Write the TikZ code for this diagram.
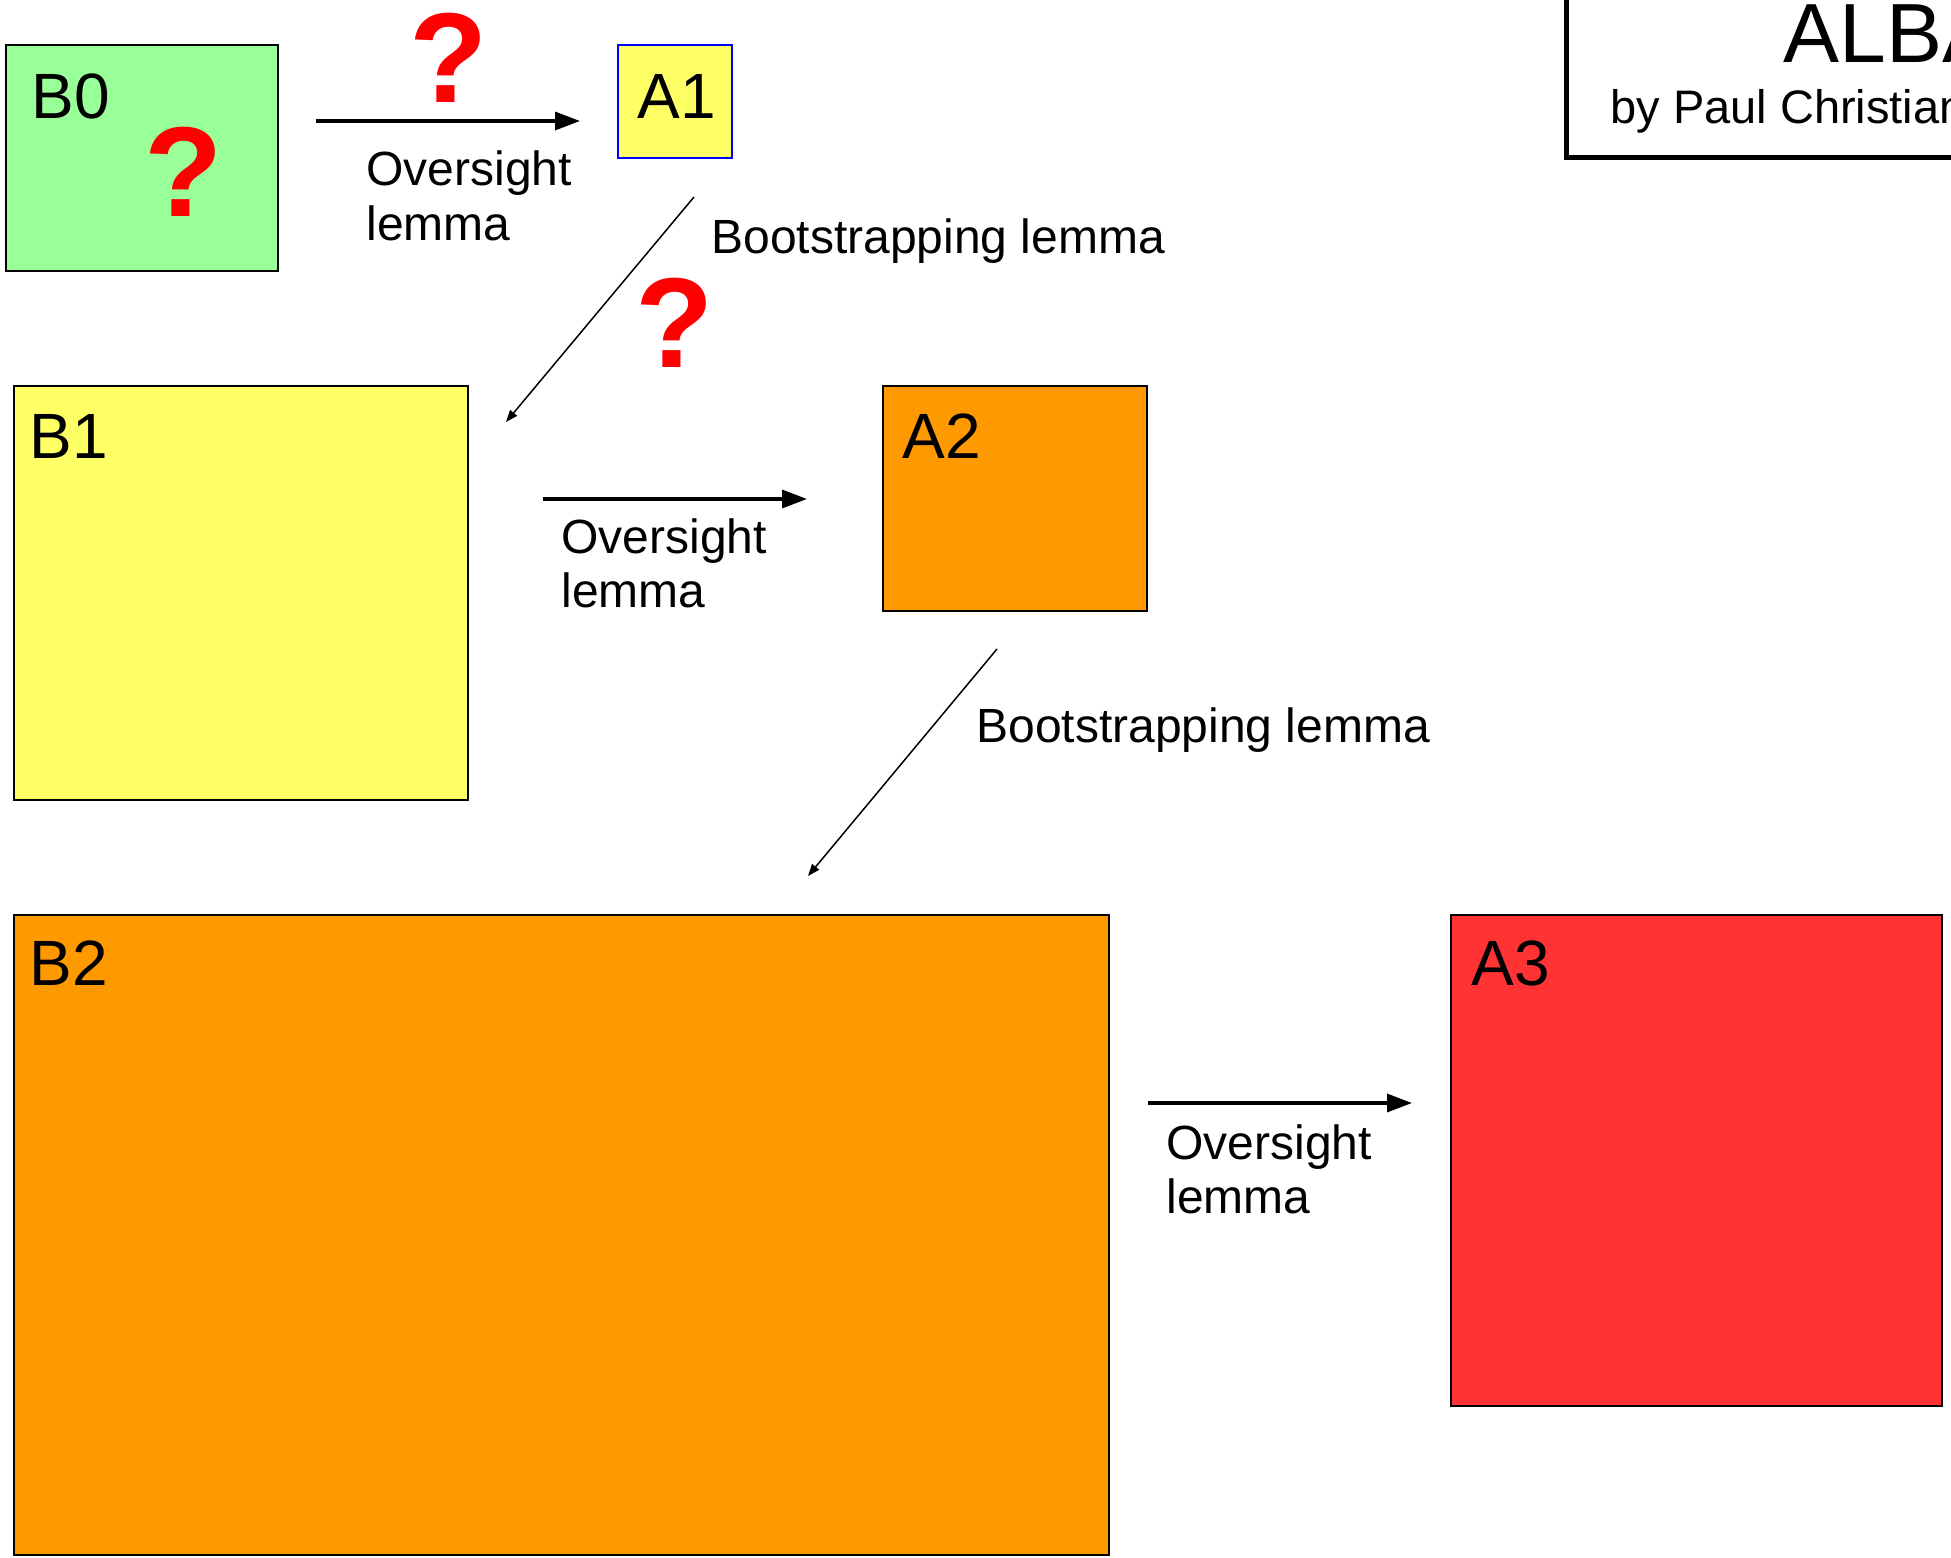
\documentclass[tikz,border=0pt]{standalone}
\usepackage{fontspec}
\setmainfont{Liberation Sans}
\usetikzlibrary{arrows.meta}
\definecolor{cgreen}{RGB}{153,255,153}
\definecolor{cyellow}{RGB}{255,255,102}
\definecolor{corange}{RGB}{255,153,0}
\definecolor{cred}{RGB}{255,51,51}
\definecolor{qred}{RGB}{255,0,0}
\definecolor{cblue}{RGB}{0,0,255}
\begin{document}
\begin{tikzpicture}[x=0.5pt,y=-0.5pt,
  box/.style={draw=black, line width=0.9pt, inner sep=0pt, outer sep=0pt, anchor=north west},
  boxlbl/.style={anchor=base west, inner sep=0pt, font=\fontsize{32pt}{38pt}\selectfont},
  lbl/.style={anchor=base west, inner sep=0pt, font=\fontsize{24pt}{28pt}\selectfont},
  qmark/.style={anchor=base, inner sep=0pt, text=qred, font=\fontsize{64pt}{70pt}\selectfont\bfseries},
  oarrow/.style={line width=1.7pt, -{Triangle[length=12.5pt,width=9pt]}},
  barrow/.style={line width=0.75pt, -{Triangle[length=6pt,width=4.5pt]}}]
\useasboundingbox (0,0) rectangle (1951,1558);
\clip (0,0) rectangle (1951,1558);
\fill[white] (0,0) rectangle (1951,1558);

% boxes
\node[box, fill=cgreen, line width=1pt, minimum width=136pt, minimum height=113pt] (b0) at (6,45) {};
\node[box, fill=cyellow, draw=cblue, line width=0.6pt, minimum width=57pt, minimum height=56.5pt] (a1) at (618,45) {};
\node[box, fill=cyellow, minimum width=227pt, minimum height=207pt] (b1) at (14,386) {};
\node[box, fill=corange, minimum width=132pt, minimum height=112.5pt] (a2) at (883,386) {};
\node[box, fill=corange, minimum width=547.5pt, minimum height=320pt] (b2) at (14,915) {};
\node[box, fill=cred, minimum width=245.5pt, minimum height=245.5pt] (a3) at (1451,915) {};

% box labels
\node[boxlbl] (lb0) at (31,118) {B0};
\node[boxlbl] (la1) at (637,118) {A1};
\node[boxlbl] (lb1) at (29,458) {B1};
\node[boxlbl] (la2) at (902,458) {A2};
\node[boxlbl] (lb2) at (29,985) {B2};
\node[boxlbl] (la3) at (1471,985) {A3};

% question marks
\node[qmark] (q0) at (183.5,216) {?};
\node[qmark] (q1) at (448.5,102) {?};
\node[qmark] (q2) at (675,367) {?};

% oversight arrows
\coordinate (o1s) at (316,121);
\coordinate (o1e) at (580,121);
\draw[oarrow] (o1s) -- (o1e);
\node[lbl] (o1a) at (366,185) {Oversight};
\node[lbl] (o1b) at (366,240) {lemma};

\coordinate (o2s) at (543,499);
\coordinate (o2e) at (807,499);
\draw[oarrow] (o2s) -- (o2e);
\node[lbl] (o2a) at (561,553) {Oversight};
\node[lbl] (o2b) at (561,607) {lemma};

\coordinate (o3s) at (1148,1103);
\coordinate (o3e) at (1412,1103);
\draw[oarrow] (o3s) -- (o3e);
\node[lbl] (o3a) at (1166,1159) {Oversight};
\node[lbl] (o3b) at (1166,1213) {lemma};

% bootstrapping arrows
\coordinate (bs1s) at (694,197);
\coordinate (bs1e) at (506,422);
\draw[barrow] (bs1s) -- (bs1e);
\node[lbl] (bl1) at (711,253) {Bootstrapping lemma};

\coordinate (bs2s) at (997,649);
\coordinate (bs2e) at (808,876);
\draw[barrow] (bs2s) -- (bs2e);
\node[lbl] (bl2) at (976,742) {Bootstrapping lemma};

% title box
\draw[line width=2.5pt] (1566,-20) -- (1566,157) -- (2100,157);
\node[anchor=base west, inner sep=0pt, font=\fontsize{42pt}{48pt}\selectfont] (title) at (1783,62) {ALBA};
\node[anchor=base west, inner sep=0pt, font=\fontsize{23.5pt}{28pt}\selectfont] (author) at (1610,123) {by Paul Christiano};
\end{tikzpicture}
\end{document}
